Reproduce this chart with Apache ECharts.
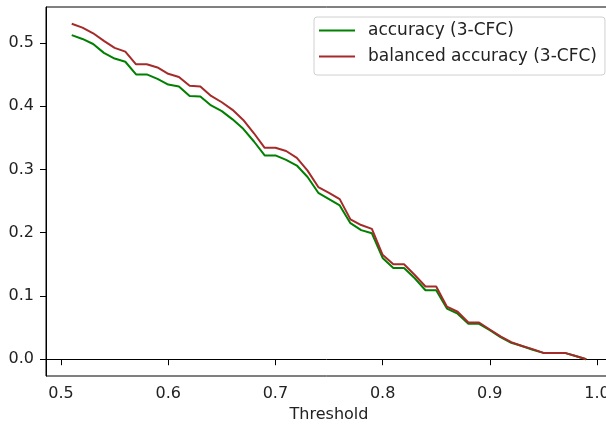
<!DOCTYPE html>
<html>
<head>
<meta charset="utf-8">
<script src="https://cdn.jsdelivr.net/npm/echarts@6/dist/echarts.min.js"></script>
<style>
  html, body { margin: 0; padding: 0; background: #fff; }
  #chart { width: 606px; height: 427px; }
</style>
</head>
<body>
<div id="chart"></div>
<script>
var thresholds = [
  0.51, 0.52, 0.53, 0.54, 0.55, 0.56, 0.57, 0.58, 0.59, 0.60,
  0.61, 0.62, 0.63, 0.64, 0.65, 0.66, 0.67, 0.68, 0.69, 0.70,
  0.71, 0.72, 0.73, 0.74, 0.75, 0.76, 0.77, 0.78, 0.79, 0.80,
  0.81, 0.82, 0.83, 0.84, 0.85, 0.86, 0.87, 0.88, 0.89, 0.90,
  0.91, 0.92, 0.93, 0.94, 0.95, 0.96, 0.97, 0.98, 0.99
];
var accuracy = [
  0.512, 0.506, 0.498, 0.484, 0.475, 0.470, 0.450, 0.450, 0.443, 0.434,
  0.431, 0.416, 0.415, 0.401, 0.392, 0.379, 0.364, 0.344, 0.322, 0.322,
  0.315, 0.306, 0.288, 0.263, 0.253, 0.243, 0.215, 0.204, 0.199, 0.160,
  0.144, 0.144, 0.128, 0.109, 0.109, 0.080, 0.072, 0.056, 0.056, 0.046,
  0.035, 0.026, 0.021, 0.015, 0.010, 0.010, 0.010, 0.005, 0.000
];
var balancedAccuracy = [
  0.530, 0.524, 0.515, 0.503, 0.492, 0.486, 0.466, 0.466, 0.461, 0.451,
  0.446, 0.432, 0.431, 0.416, 0.406, 0.394, 0.378, 0.357, 0.334, 0.334,
  0.329, 0.318, 0.298, 0.272, 0.263, 0.253, 0.221, 0.212, 0.206, 0.165,
  0.150, 0.150, 0.133, 0.115, 0.115, 0.083, 0.075, 0.058, 0.058, 0.047,
  0.036, 0.027, 0.021, 0.016, 0.010, 0.010, 0.010, 0.005, 0.000
];
var xTicks = [0.5, 0.6, 0.7, 0.8, 0.9, 1.0];
var yTicks = [0.0, 0.1, 0.2, 0.3, 0.4, 0.5];

function pairs(ys) {
  return thresholds.map(function (t, i) { return [t, ys[i]]; });
}

var chart = echarts.init(document.getElementById("chart"), null, { renderer: "canvas" });
var font = "DejaVu Sans";

var option = {
  backgroundColor: "#fff",
  animation: false,
  textStyle: { fontFamily: font },
  grid: {
    left: 46,
    top: 7,
    width: 566,
    height: 369,
    containLabel: false,
    outerBoundsMode: "none",
    show: true,
    borderColor: "#000",
    borderWidth: 1,
    backgroundColor: "transparent",
  },
  legend: {
    orient: "vertical",
    left: 314,
    top: 17,
    padding: [5, 8, 10, 5],
    itemGap: 9,
    itemWidth: 36,
    itemHeight: 2,
    icon: "rect",
    itemStyle: { borderWidth: 0 },
    backgroundColor: "#fff",
    borderColor: "#d0d0d0",
    borderWidth: 1,
    borderRadius: 3,
    textStyle: {
      fontFamily: font,
      fontSize: 17,
      color: "#222",
      lineHeight: 16,
      padding: [0, 0, 0, 8],
    },
    data: ["accuracy (3-CFC)", "balanced accuracy (3-CFC)"],
  },
  xAxis: {
    type: "value",
    min: 0.486,
    max: 1.014,
    name: "Threshold",
    nameLocation: "middle",
    nameGap: 30,
    nameTextStyle: { fontFamily: font, fontSize: 16, color: "#222" },
    axisLine: { show: true, lineStyle: { color: "#000", width: 1 } },
    axisTick: { show: true, length: 6, lineStyle: { color: "#000" }, customValues: xTicks },
    axisLabel: {
      fontFamily: font,
      fontSize: 16,
      color: "#222",
      margin: 10,
      customValues: xTicks,
      formatter: function (v) { return v.toFixed(1); },
    },
    splitLine: { show: false },
  },
  yAxis: {
    type: "value",
    min: -0.0265,
    max: 0.5565,
    axisLine: { show: true, lineStyle: { color: "#000", width: 1 } },
    axisTick: { show: true, length: 6, lineStyle: { color: "#000" }, customValues: yTicks },
    axisLabel: {
      fontFamily: font,
      fontSize: 16,
      color: "#222",
      margin: 12,
      customValues: yTicks,
      formatter: function (v) { return v.toFixed(1); },
    },
    splitLine: { show: false },
  },
  series: [
    {
      name: "accuracy (3-CFC)",
      type: "line",
      symbol: "none",
      color: "#008000",
      lineStyle: { color: "#008000", width: 2 },
      data: pairs(accuracy),
    },
    {
      name: "balanced accuracy (3-CFC)",
      type: "line",
      symbol: "none",
      color: "#a52a2a",
      lineStyle: { color: "#a52a2a", width: 2 },
      data: pairs(balancedAccuracy),
    },
  ],
};

chart.setOption(option);
</script>
</body>
</html>
